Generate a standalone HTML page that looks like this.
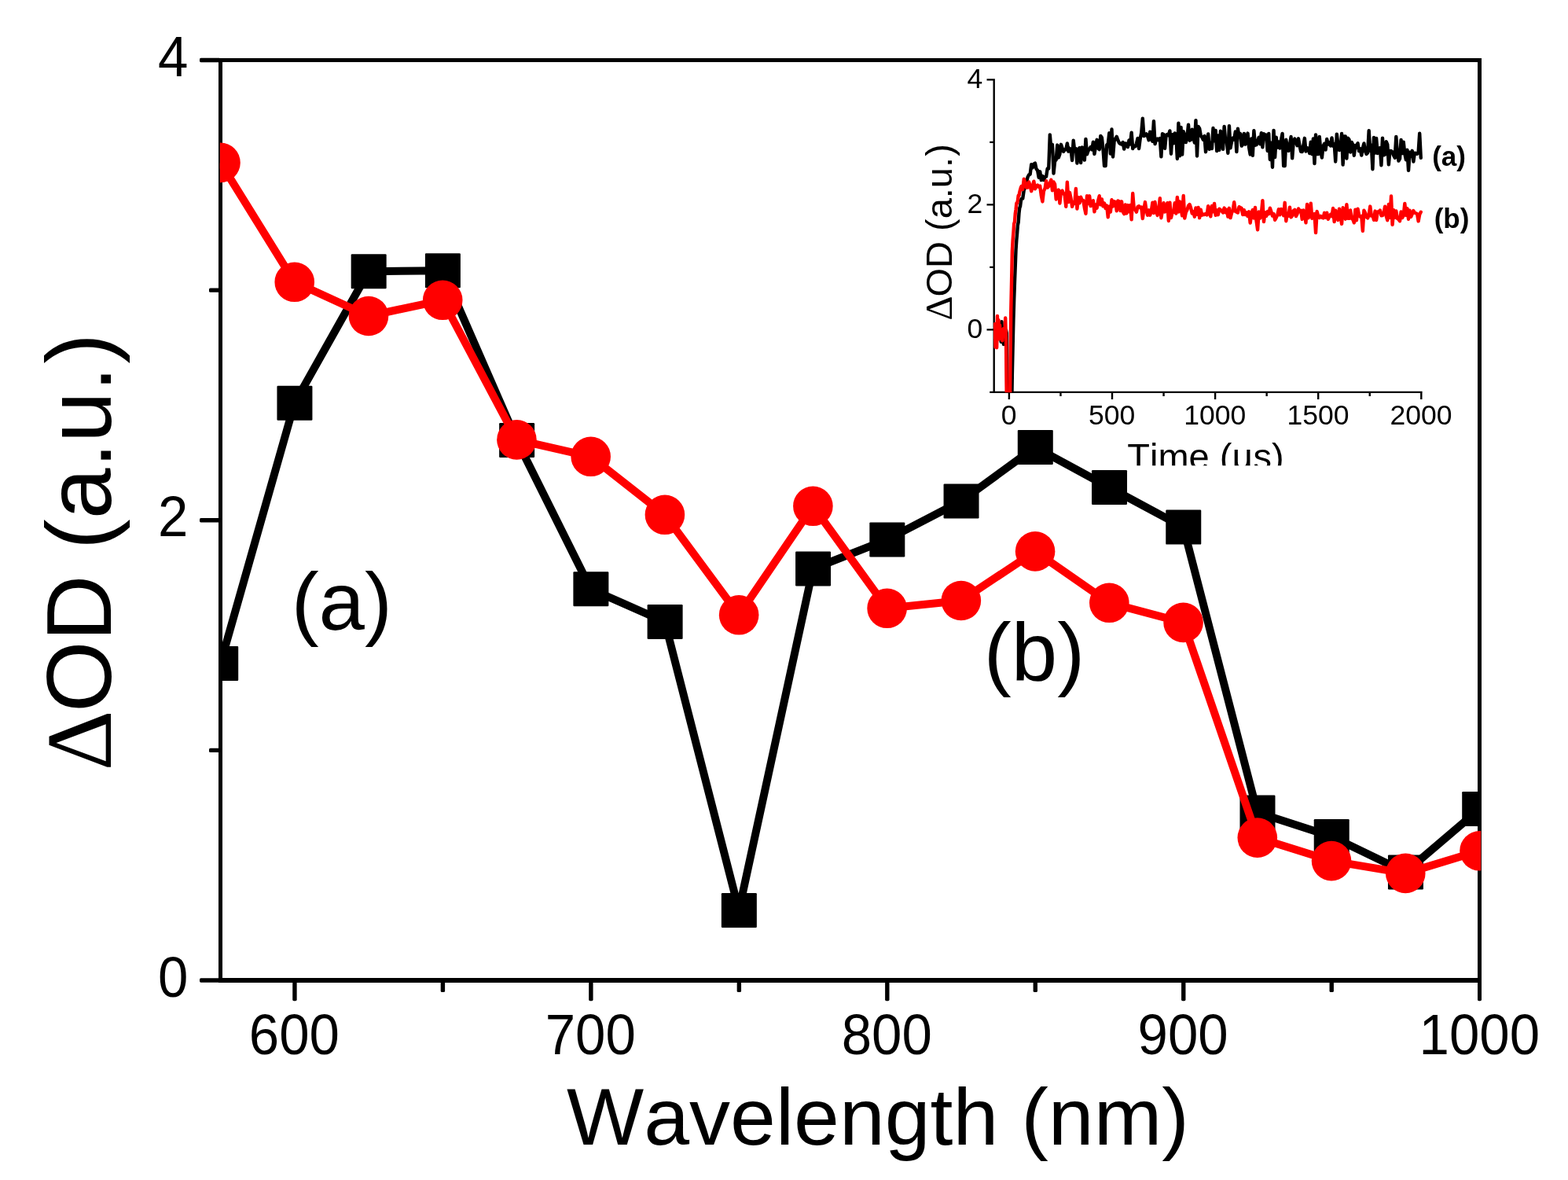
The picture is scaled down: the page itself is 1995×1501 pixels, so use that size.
<!DOCTYPE html>
<html lang="en"><head><meta charset="utf-8"><title>Transient absorption spectra</title>
<style>
html,body{margin:0;padding:0;background:#fff;}
body{width:1995px;height:1501px;}
svg{display:block;}
text{font-family:"Liberation Sans",Arial,Helvetica,sans-serif;fill:#000;font-kerning:none;}
.b{font-weight:bold;}
.sy{font-family:"Liberation Serif","DejaVu Serif",serif;}
</style></head><body>
<svg width="1995" height="1501" viewBox="0 0 1995 1501" role="img" aria-label="Transient absorption spectra with inset kinetic traces">
<defs>
<clipPath id="cm"><rect x="279.8" y="74" width="1604.4" height="1175.5"/></clipPath>
<clipPath id="ci"><rect x="1264" y="95" width="560" height="404.2"/></clipPath>
<clipPath id="ct"><rect x="1400" y="540" width="300" height="52.3"/></clipPath>
</defs>
<rect width="1995" height="1501" fill="#fff"/>
<g stroke="#000" stroke-width="5" fill="none" stroke-linecap="butt">
<path d="M278 76.5 H1885 M280.5 76.5 V1247 M1882.5 76.5 V1247"/>
<path stroke-width="6" d="M278 1247 H1885"/>
</g>
<g fill="#000">
<rect x="254" y="1244.3" width="26.5" height="5.4" rx="1.6"/>
<rect x="254" y="659.05" width="26.5" height="5.4" rx="1.6"/>
<rect x="254" y="73.8" width="26.5" height="5.4" rx="1.6"/>
<rect x="266" y="951.67" width="14.5" height="5.4" rx="1.6"/>
<rect x="266" y="366.43" width="14.5" height="5.4" rx="1.6"/>
<rect x="372.24" y="1247" width="5.4" height="26.2" rx="1.6"/>
<rect x="749.18" y="1247" width="5.4" height="26.2" rx="1.6"/>
<rect x="1126.12" y="1247" width="5.4" height="26.2" rx="1.6"/>
<rect x="1503.06" y="1247" width="5.4" height="26.2" rx="1.6"/>
<rect x="1880" y="1247" width="5" height="26.2" rx="1.6"/>
<rect x="560.71" y="1247" width="5.4" height="15" rx="1.6"/>
<rect x="937.65" y="1247" width="5.4" height="15" rx="1.6"/>
<rect x="1314.59" y="1247" width="5.4" height="15" rx="1.6"/>
<rect x="1691.53" y="1247" width="5.4" height="15" rx="1.6"/>
</g>
<g font-size="69" text-anchor="middle">
<text transform="translate(374.34 1340.6) scale(1 1.05)">600</text>
<text transform="translate(751.28 1340.6) scale(1 1.05)">700</text>
<text transform="translate(1128.22 1340.6) scale(1 1.05)">800</text>
<text transform="translate(1505.16 1340.6) scale(1 1.05)">900</text>
<text transform="translate(1882.3 1340.6) scale(1 1.05)">1000</text>
</g>
<g font-size="69" text-anchor="end">
<text transform="translate(239.4 1267.6) scale(1 1.05)">0</text>
<text transform="translate(239.4 682.35) scale(1 1.05)">2</text>
<text transform="translate(239.4 97.1) scale(1 1.05)">4</text>
</g>
<text transform="translate(1117 1455.8) scale(1 0.985)" font-size="104" text-anchor="middle">Wavelength (nm)</text>
<text transform="translate(141 980.3) rotate(-90)" font-size="116.5"><tspan class="sy" font-size="119.5">Δ</tspan><tspan dx="-2.6">OD (a.u.</tspan><tspan dx="3">)</tspan></text>
<g clip-path="url(#cm)">
<polyline fill="none" stroke="#000" stroke-width="10" stroke-linejoin="round" points="280.5,843.9 374.74,512.8 468.97,345.3 563.21,344.2 657.44,560 751.68,749.3 845.91,791 940.15,1158 1034.38,723.5 1128.62,686.4 1222.85,637.5 1317.09,568.9 1411.32,620 1505.56,670.6 1599.79,1033.5 1694.03,1064.1 1788.26,1109.4 1882.5,1029"/>
<rect x="258.2" y="821.9" width="45" height="44" rx="1.2" fill="#000"/>
<rect x="352.44" y="490.8" width="45" height="44" rx="1.2" fill="#000"/>
<rect x="446.67" y="323.3" width="45" height="44" rx="1.2" fill="#000"/>
<rect x="540.91" y="322.2" width="45" height="44" rx="1.2" fill="#000"/>
<rect x="635.14" y="538" width="45" height="44" rx="1.2" fill="#000"/>
<rect x="729.38" y="727.3" width="45" height="44" rx="1.2" fill="#000"/>
<rect x="823.61" y="769" width="45" height="44" rx="1.2" fill="#000"/>
<rect x="917.85" y="1136" width="45" height="44" rx="1.2" fill="#000"/>
<rect x="1012.08" y="701.5" width="45" height="44" rx="1.2" fill="#000"/>
<rect x="1106.32" y="664.4" width="45" height="44" rx="1.2" fill="#000"/>
<rect x="1200.55" y="615.5" width="45" height="44" rx="1.2" fill="#000"/>
<rect x="1294.79" y="546.9" width="45" height="44" rx="1.2" fill="#000"/>
<rect x="1389.02" y="598" width="45" height="44" rx="1.2" fill="#000"/>
<rect x="1483.26" y="648.6" width="45" height="44" rx="1.2" fill="#000"/>
<rect x="1577.49" y="1011.5" width="45" height="44" rx="1.2" fill="#000"/>
<rect x="1671.73" y="1042.1" width="45" height="44" rx="1.2" fill="#000"/>
<rect x="1765.96" y="1087.4" width="45" height="44" rx="1.2" fill="#000"/>
<rect x="1860.2" y="1007" width="45" height="44" rx="1.2" fill="#000"/>
</g>
<g clip-path="url(#cm)">
<polyline fill="none" stroke="#f00" stroke-width="10" stroke-linejoin="round" points="280.5,206.9 374.74,358.8 468.97,402 563.21,381.8 657.44,559.4 751.68,580.8 845.91,654.8 940.15,782.3 1034.38,643.8 1128.62,773.8 1222.85,764 1317.09,701.4 1411.32,766.8 1505.56,791.9 1599.79,1065.6 1694.03,1095.1 1788.26,1110.9 1882.5,1082.3"/>
<circle cx="280.5" cy="206.9" r="25.3" fill="#f00"/>
<circle cx="374.74" cy="358.8" r="25.3" fill="#f00"/>
<circle cx="468.97" cy="402" r="25.3" fill="#f00"/>
<circle cx="563.21" cy="381.8" r="25.3" fill="#f00"/>
<circle cx="657.44" cy="559.4" r="25.3" fill="#f00"/>
<circle cx="751.68" cy="580.8" r="25.3" fill="#f00"/>
<circle cx="845.91" cy="654.8" r="25.3" fill="#f00"/>
<circle cx="940.15" cy="782.3" r="25.3" fill="#f00"/>
<circle cx="1034.38" cy="643.8" r="25.3" fill="#f00"/>
<circle cx="1128.62" cy="773.8" r="25.3" fill="#f00"/>
<circle cx="1222.85" cy="764" r="25.3" fill="#f00"/>
<circle cx="1317.09" cy="701.4" r="25.3" fill="#f00"/>
<circle cx="1411.32" cy="766.8" r="25.3" fill="#f00"/>
<circle cx="1505.56" cy="791.9" r="25.3" fill="#f00"/>
<circle cx="1599.79" cy="1065.6" r="25.3" fill="#f00"/>
<circle cx="1694.03" cy="1095.1" r="25.3" fill="#f00"/>
<circle cx="1788.26" cy="1110.9" r="25.3" fill="#f00"/>
<circle cx="1882.5" cy="1082.3" r="25.3" fill="#f00"/>
</g>
<text transform="translate(434.8 801.3) scale(1 0.985)" font-size="105" text-anchor="middle">(a)</text>
<text transform="translate(1316 865) scale(1 0.985)" font-size="105" text-anchor="middle">(b)</text>
<g stroke="#000" stroke-width="2.4" fill="none">
<path d="M1264.7 100.2 V500.1 M1259.2 498.9 H1809.6 M1264.7 419.4 H1255.5 M1264.7 260.4 H1255.5 M1264.7 101.4 H1255.5 M1264.7 339.9 H1259.2 M1264.7 180.9 H1259.2 M1283.9 498.9 V508 M1415 498.9 V508 M1546.1 498.9 V508 M1677.2 498.9 V508 M1808.3 498.9 V508 M1349.45 498.9 V504 M1480.55 498.9 V504 M1611.65 498.9 V504 M1742.75 498.9 V504"/>
</g>
<g font-size="35.5" text-anchor="middle">
<text x="1283.6" y="540">0</text>
<text x="1414.7" y="540">500</text>
<text x="1545.8" y="540">1000</text>
<text x="1676.9" y="540">1500</text>
<text x="1808" y="540">2000</text>
</g>
<g font-size="35.5" text-anchor="end">
<text x="1250.3" y="430">0</text>
<text x="1250.3" y="271">2</text>
<text x="1250.3" y="112">4</text>
</g>
<text transform="translate(1210.8 407.6) rotate(-90)" font-size="47"><tspan class="sy" font-size="48.3">Δ</tspan><tspan dx="-1">OD (a.u.</tspan><tspan dx="1.2">)</tspan></text>
<g clip-path="url(#ct)"><text x="1534" y="597.2" font-size="47" text-anchor="middle">Time (µs)</text></g>
<text class="b" x="1843.6" y="211.4" font-size="35" text-anchor="middle">(a)</text>
<text class="b" x="1847" y="289.5" font-size="35" text-anchor="middle">(b)</text>
<g clip-path="url(#ci)" fill="none" stroke-linejoin="round" stroke-linecap="round" stroke-width="4.4">
<polyline stroke="#000" points="1264.24,421.43 1265.02,414.61 1265.81,423.82 1266.59,420.66 1267.38,427.24 1268.17,418.85 1268.95,412.37 1269.74,421.03 1270.53,412.53 1271.31,422.9 1272.1,417.35 1272.89,421.78 1273.67,434.78 1274.46,409.16 1275.25,423.74 1276.03,417.51 1276.82,438 1277.61,429.47 1278.39,426.79 1279.18,424.92 1279.97,419.89 1280.75,423.74 1281.54,550.57 1282.33,595.77 1283.11,593.15 1283.9,594.19 1284.69,595.4 1285.47,591.07 1286.26,594.87 1287.05,528.54 1287.83,477.89 1288.62,441.78 1289.41,407.45 1290.19,381.22 1290.98,358.78 1291.77,338.36 1292.55,317.53 1293.34,305.6 1294.13,296.72 1294.91,286.42 1295.7,282.76 1296.49,271.2 1297.27,264.59 1298.06,262.5 1298.85,256.12 1299.63,252.88 1301.21,252.68 1302.78,241.86 1304.35,238.17 1305.92,232.75 1307.5,225.53 1309.07,222.39 1310.64,221.81 1312.22,209.22 1313.79,213.35 1315.36,208.5 1316.94,207.53 1318.51,214.88 1320.08,216.74 1321.66,225.74 1323.23,218.28 1324.8,229.11 1326.38,223.89 1327.95,229.04 1329.52,225.11 1331.1,224.71 1332.67,214.52 1334.24,214.48 1335.82,171.36 1337.39,190.26 1338.96,183.81 1340.54,220.65 1342.11,205.06 1343.68,203.32 1345.25,184.58 1346.83,200.42 1348.4,195.93 1349.97,183.83 1351.55,188.48 1353.12,192.81 1354.69,190.31 1356.27,190.21 1357.84,182.46 1359.41,192.58 1360.99,188.75 1362.56,190.33 1364.13,203.96 1365.71,178.61 1367.28,192.27 1368.85,189.05 1370.43,207.46 1372,190.17 1373.57,188.02 1375.15,206.97 1376.72,187.49 1378.29,188.17 1379.87,203.66 1381.44,176.99 1383.01,196.19 1384.58,191.73 1386.16,189.38 1387.73,186.96 1389.3,190.34 1390.88,180.61 1392.45,195.91 1394.02,185.87 1395.6,177.81 1397.17,188.63 1398.74,190.05 1400.32,172.87 1401.89,174.98 1403.46,189.44 1405.04,211.11 1406.61,211.11 1408.18,184.37 1409.76,183.21 1411.33,169.32 1412.9,195.67 1414.48,164.52 1416.05,199.45 1417.62,179.51 1419.2,176.45 1420.77,173.8 1422.34,178.16 1423.91,181.7 1425.49,183.01 1427.06,183.55 1428.63,180.99 1430.21,189.62 1431.78,182.4 1433.35,182.93 1434.93,187.03 1436.5,178.38 1438.07,183.5 1439.65,168.7 1441.22,189 1442.79,185.71 1444.37,186.3 1445.94,182.6 1447.51,176.01 1449.09,189.07 1450.66,176.73 1452.23,168.88 1453.81,150.69 1455.38,173 1456.95,172.18 1458.53,170.45 1460.1,173.25 1461.67,178.27 1463.24,167.64 1464.82,176.23 1466.39,179.77 1467.96,154.08 1469.54,183.16 1471.11,177.73 1472.68,176.45 1474.26,178.15 1475.83,176.09 1477.4,199.34 1478.98,170.24 1480.55,170.92 1482.12,188.85 1483.7,171.65 1485.27,170.95 1486.84,172.15 1488.42,166.38 1489.99,195.69 1491.56,171.32 1493.14,182.25 1494.71,169.35 1496.28,171.31 1497.86,202.01 1499.43,156.78 1501,198.37 1502.57,161.94 1504.15,196.56 1505.72,167.13 1507.29,171.94 1508.87,181.06 1510.44,174.18 1512.01,158.64 1513.59,178.69 1515.16,177.8 1516.73,164.73 1518.31,174.72 1519.88,181.5 1521.45,153.15 1523.03,198.47 1524.6,160.94 1526.17,163.41 1527.75,172.43 1529.32,174.61 1530.89,177.73 1532.47,172.92 1534.04,193.23 1535.61,184.01 1537.19,170.5 1538.76,189.82 1540.33,181.72 1541.9,189.14 1543.48,163.03 1545.05,179.19 1546.62,165.92 1548.2,192.08 1549.77,172.54 1551.34,190.93 1552.92,166.81 1554.49,170.86 1556.06,189.81 1557.64,160.89 1559.21,178.75 1560.78,180.52 1562.36,194.77 1563.93,160.22 1565.5,188.38 1567.08,180.01 1568.65,175.48 1570.22,177.5 1571.8,167.58 1573.37,193.16 1574.94,163.78 1576.52,174.21 1578.09,169.95 1579.66,185.63 1581.23,183.42 1582.81,169.84 1584.38,183.63 1585.95,177.49 1587.53,169.54 1589.1,187.34 1590.67,196.44 1592.25,176.54 1593.82,197.88 1595.39,166.11 1596.97,184.73 1598.54,184.24 1600.11,179.57 1601.69,174.78 1603.26,183.37 1604.83,169.23 1606.41,187.31 1607.98,170.12 1609.55,174.23 1611.13,171.53 1612.7,191.93 1614.27,169.93 1615.85,202.97 1617.42,181.63 1618.99,212.7 1620.56,165.85 1622.14,199.99 1623.71,174.59 1625.28,187.65 1626.86,180.51 1628.43,188.53 1630,178.14 1631.58,169.91 1633.15,211.11 1634.72,211.11 1636.3,177.76 1637.87,187.1 1639.44,191.86 1641.02,183.95 1642.59,174.02 1644.16,201.29 1645.74,180.37 1647.31,176.49 1648.88,180.13 1650.46,185.15 1652.03,176.34 1653.6,185.74 1655.18,192.84 1656.75,192.96 1658.32,185.29 1659.89,175.81 1661.47,192.6 1663.04,187.96 1664.61,189.06 1666.19,195.02 1667.76,180.63 1669.33,196.08 1670.91,176.35 1672.48,208.07 1674.05,171.46 1675.63,196.13 1677.2,195.99 1678.77,173.94 1680.35,192.39 1681.92,200.58 1683.49,185.75 1685.07,182.86 1686.64,190.59 1688.21,176.95 1689.79,183.53 1691.36,181.42 1692.93,185.38 1694.51,175.36 1696.08,185.67 1697.65,182.95 1699.22,205.51 1700.8,170.65 1702.37,183.06 1703.94,191.06 1705.52,189.07 1707.09,170.02 1708.66,209.64 1710.24,173.39 1711.81,173.56 1713.38,201.63 1714.96,175.67 1716.53,177.54 1718.1,193.62 1719.68,180.87 1721.25,183.93 1722.82,197.82 1724.4,184.93 1725.97,187.71 1727.54,182.19 1729.12,192.03 1730.69,189.16 1732.26,197.57 1733.84,188.58 1735.41,182.46 1736.98,192.08 1738.55,196 1740.13,194.42 1741.7,166.12 1743.27,191.88 1744.85,184.76 1746.42,215.2 1747.99,174.95 1749.57,194.51 1751.14,175.94 1752.71,195.06 1754.29,190.87 1755.86,188.11 1757.43,210.22 1759.01,175.69 1760.58,197.42 1762.15,196.49 1763.73,180.26 1765.3,183.8 1766.87,209.29 1768.45,191.95 1770.02,192.04 1771.59,193.18 1773.17,197.8 1774.74,200.8 1776.31,173.89 1777.88,195.32 1779.46,204.58 1781.03,201.95 1782.6,177.97 1784.18,195 1785.75,180.67 1787.32,195.83 1788.9,203.32 1790.47,190.77 1792.04,216.9 1793.62,193.64 1795.19,198.63 1796.76,191.8 1798.34,205.59 1799.91,194.63 1801.48,194.97 1803.06,195.78 1804.63,193.51 1806.2,169.77 1807.78,200.92"/>
<polyline stroke="#f00" points="1264.24,428.77 1265.02,424.51 1265.81,412.26 1266.59,441.61 1267.38,411.59 1268.17,442.18 1268.95,402.01 1269.74,427.51 1270.53,407.15 1271.31,431.38 1272.1,413.59 1272.89,427.32 1273.67,425.02 1274.46,419.31 1275.25,433.31 1276.03,420.12 1276.82,417.98 1277.61,424.31 1278.39,425.47 1279.18,404.56 1279.97,431.2 1280.75,509 1281.54,594.03 1282.33,595.04 1283.11,594.42 1283.9,594.66 1284.69,544.02 1285.47,458.69 1286.26,394.83 1287.05,358.27 1287.83,319.77 1288.62,305.38 1289.41,295.96 1290.19,284.4 1290.98,282.19 1291.77,271.55 1292.55,266.47 1293.34,258.6 1294.13,258.24 1294.91,254.98 1295.7,248.65 1296.49,248.8 1297.27,244.46 1298.06,241.29 1298.85,238.69 1299.63,236.91 1301.21,241.04 1302.78,227.77 1304.35,231.73 1305.92,238.6 1307.5,238.45 1309.07,231.51 1310.64,236.22 1312.22,243.21 1313.79,236.67 1315.36,230.67 1316.94,240.26 1318.51,237.39 1320.08,235.52 1321.66,237.89 1323.23,236.7 1324.8,248.79 1326.38,256.42 1327.95,243.06 1329.52,239.82 1331.1,230.27 1332.67,238.63 1334.24,236.98 1335.82,232.73 1337.39,228.85 1338.96,242.21 1340.54,231.49 1342.11,234.34 1343.68,253.44 1345.25,243.31 1346.83,241.56 1348.4,258.6 1349.97,243.78 1351.55,242.58 1353.12,246.05 1354.69,248.4 1356.27,262.81 1357.84,231.59 1359.41,256.96 1360.99,244.83 1362.56,252.5 1364.13,262.81 1365.71,257.08 1367.28,258.94 1368.85,239.99 1370.43,265.5 1372,251.09 1373.57,258.23 1375.15,250.68 1376.72,255 1378.29,254.88 1379.87,264.47 1381.44,271.76 1383.01,249.19 1384.58,259.15 1386.16,249.34 1387.73,262.13 1389.3,259.82 1390.88,255.18 1392.45,269.4 1394.02,260.36 1395.6,264.63 1397.17,255.41 1398.74,249.22 1400.32,260.34 1401.89,253.49 1403.46,262.35 1405.04,258.51 1406.61,264.97 1408.18,261.44 1409.76,276.22 1411.33,262.64 1412.9,269.64 1414.48,254.21 1416.05,262.57 1417.62,256.34 1419.2,257.06 1420.77,268.22 1422.34,255.47 1423.91,256.22 1425.49,267.98 1427.06,256.33 1428.63,269.12 1430.21,272.09 1431.78,260.51 1433.35,271.42 1434.93,261.05 1436.5,269.21 1438.07,260.96 1439.65,279.41 1441.22,246.02 1442.79,265.45 1444.37,266.99 1445.94,269.71 1447.51,263.13 1449.09,262.18 1450.66,264.2 1452.23,263.5 1453.81,278.04 1455.38,266.58 1456.95,257.07 1458.53,268.02 1460.1,273.68 1461.67,267.33 1463.24,273.73 1464.82,268.39 1466.39,257.75 1467.96,270.99 1469.54,257.03 1471.11,269 1472.68,273.88 1474.26,266.6 1475.83,252.19 1477.4,277.22 1478.98,267.74 1480.55,258.24 1482.12,269.52 1483.7,265.1 1485.27,258.22 1486.84,280.97 1488.42,257.58 1489.99,277.11 1491.56,270.51 1493.14,269.97 1494.71,258.34 1496.28,271.5 1497.86,250.86 1499.43,269.6 1501,256.5 1502.57,265.52 1504.15,274.4 1505.72,249.07 1507.29,277.53 1508.87,269.83 1510.44,266.93 1512.01,261.77 1513.59,260.05 1515.16,264.43 1516.73,271.4 1518.31,269.15 1519.88,275.69 1521.45,264.39 1523.03,272.73 1524.6,263.92 1526.17,277.17 1527.75,266.71 1529.32,273.7 1530.89,272.59 1532.47,273.04 1534.04,271.9 1535.61,273.49 1537.19,262.16 1538.76,270.18 1540.33,275.3 1541.9,261.89 1543.48,269.37 1545.05,258.92 1546.62,273.79 1548.2,267.28 1549.77,273.22 1551.34,265.68 1552.92,266.91 1554.49,268.39 1556.06,270.44 1557.64,264.62 1559.21,270.21 1560.78,266.84 1562.36,275.65 1563.93,264.82 1565.5,277.13 1567.08,270.75 1568.65,267.58 1570.22,257.23 1571.8,268.75 1573.37,269.71 1574.94,270.49 1576.52,263.11 1578.09,264.12 1579.66,264.75 1581.23,273.14 1582.81,267.17 1584.38,273.11 1585.95,270.26 1587.53,275.1 1589.1,269.33 1590.67,283.63 1592.25,271.47 1593.82,267.12 1595.39,277.41 1596.97,263.93 1598.54,281.27 1600.11,292.2 1601.69,269.36 1603.26,277.55 1604.83,271.98 1606.41,255.14 1607.98,282.05 1609.55,270.18 1611.13,274.81 1612.7,269.12 1614.27,272.13 1615.85,264.71 1617.42,269.31 1618.99,274.62 1620.56,272.04 1622.14,279.75 1623.71,276.87 1625.28,273.63 1626.86,266.18 1628.43,273.3 1630,265.98 1631.58,268.47 1633.15,274.14 1634.72,257.82 1636.3,281.21 1637.87,271.36 1639.44,274.64 1641.02,263.66 1642.59,276.41 1644.16,274.4 1645.74,268.19 1647.31,266.77 1648.88,275.05 1650.46,272.23 1652.03,265.39 1653.6,269.13 1655.18,267.72 1656.75,278.82 1658.32,267.49 1659.89,272.15 1661.47,283.26 1663.04,260.03 1664.61,277.25 1666.19,272.23 1667.76,258.66 1669.33,277.72 1670.91,274.47 1672.48,271.97 1674.05,296.17 1675.63,269.04 1677.2,274.52 1678.77,277.02 1680.35,274.92 1681.92,276.64 1683.49,277.34 1685.07,270.79 1686.64,276.65 1688.21,270.74 1689.79,278.81 1691.36,275.47 1692.93,272.87 1694.51,275.08 1696.08,265 1697.65,282.09 1699.22,267.69 1700.8,275.72 1702.37,279.87 1703.94,265.64 1705.52,275.44 1707.09,284.82 1708.66,264.15 1710.24,271.38 1711.81,278.66 1713.38,260.21 1714.96,277.86 1716.53,277.86 1718.1,267.4 1719.68,277.71 1721.25,279.01 1722.82,283.31 1724.4,266.81 1725.97,280.19 1727.54,265.76 1729.12,273.8 1730.69,275.68 1732.26,274.88 1733.84,293.79 1735.41,267.74 1736.98,270.61 1738.55,276.04 1740.13,277.38 1741.7,273.14 1743.27,262.56 1744.85,274.62 1746.42,273.74 1747.99,279.81 1749.57,268.59 1751.14,279.98 1752.71,269.42 1754.29,269.72 1755.86,267.57 1757.43,274.18 1759.01,274.12 1760.58,270.67 1762.15,262.64 1763.73,274.9 1765.3,280.15 1766.87,259.84 1768.45,276.86 1770.02,249.57 1771.59,285.82 1773.17,267.21 1774.74,276.8 1776.31,268.37 1777.88,277.95 1779.46,279.07 1781.03,281.25 1782.6,269.34 1784.18,277.05 1785.75,273.97 1787.32,258.96 1788.9,273.73 1790.47,265.28 1792.04,278.71 1793.62,267.8 1795.19,275.79 1796.76,272.14 1798.34,268 1799.91,270.71 1801.48,271.29 1803.06,271.96 1804.63,281.28 1806.2,272.8 1807.78,269.81"/>
</g>
</svg>
</body></html>
